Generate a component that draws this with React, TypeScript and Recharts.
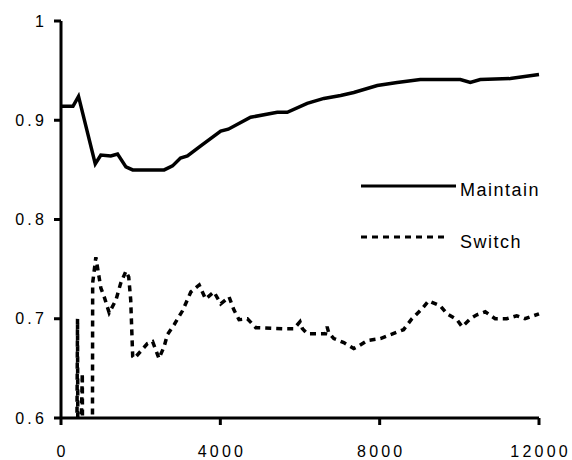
import React from 'react';
import { LineChart, Line, XAxis, YAxis, Legend, ReferenceLine } from 'recharts';

// values
const maintainX = [0, 300, 440, 860, 1000, 1250, 1420, 1630, 1800, 2590, 2800, 3000, 3175, 3500, 4010, 4200, 4760, 5430, 5680, 6180, 6600, 7020, 7350, 7940, 8440, 9020, 10025, 10275, 10525, 11280, 12000];
const maintainY = [0.914, 0.914, 0.924, 0.856, 0.865, 0.864, 0.866, 0.853, 0.85, 0.85, 0.854, 0.862, 0.864, 0.874, 0.889, 0.891, 0.903, 0.908, 0.908, 0.917, 0.922, 0.925, 0.928, 0.935, 0.938, 0.941, 0.941, 0.938, 0.941, 0.942, 0.946];

const switchX = [380, 415, 430, 535, 550, 785, 795, 875, 1000, 1085, 1210, 1380, 1500, 1630, 1700, 1750, 1800, 1840, 2170, 2300, 2460, 2590, 2670, 2840, 3050, 3260, 3470, 3630, 3840, 4010, 4220, 4340, 4470, 4680, 4890, 5560, 5850, 6000, 6060, 6180, 6640, 6680, 6720, 6850, 7100, 7350, 7450, 7690, 8020, 8270, 8600, 8810, 9060, 9230, 9520, 9690, 9940, 10070, 10275, 10440, 10650, 10900, 11190, 11440, 11650, 11860, 12000];
const switchY = [0.45, 0.7, 0.45, 0.645, 0.45, 0.45, 0.736, 0.762, 0.731, 0.722, 0.706, 0.719, 0.736, 0.748, 0.742, 0.719, 0.662, 0.66, 0.675, 0.677, 0.66, 0.672, 0.684, 0.694, 0.708, 0.727, 0.734, 0.72, 0.727, 0.715, 0.722, 0.709, 0.699, 0.7, 0.691, 0.69, 0.69, 0.697, 0.69, 0.685, 0.685, 0.692, 0.686, 0.68, 0.676, 0.67, 0.672, 0.678, 0.68, 0.684, 0.689, 0.7, 0.71, 0.718, 0.713, 0.705, 0.699, 0.692, 0.7, 0.704, 0.707, 0.7, 0.7, 0.703, 0.7, 0.703, 0.705];

const xTicks = [0, 4000, 8000, 12000];
const yTicks = [0.6, 0.7, 0.8, 0.9, 1];
const seriesNames = ['Maintain', 'Switch'];

const maintainData = maintainX.map((x, i) => ({ x, v: maintainY[i] }));
const switchData = switchX.map((x, i) => ({ x, v: switchY[i] }));

const font = '"Liberation Sans", Arial, sans-serif';
const LS = 3.2;
const txt = { fontFamily: font, fontSize: 16, letterSpacing: LS, fill: '#000' };

// tick mark + label drawn by hand so the marks come out 3px thick
function XTick(props: any) {
  const { x, y, payload } = props;
  return (
    <g>
      <line x1={x} y1={y} x2={x} y2={y + 7} stroke="#000" strokeWidth={3} />
      <text x={x + LS / 2} y={y + 38.5} textAnchor="middle" {...txt}>{payload.value}</text>
    </g>
  );
}

function YTick(props: any) {
  const { x, y, payload } = props;
  const label = payload.value === 1 ? '1' : Number(payload.value).toFixed(1);
  return (
    <g>
      <line x1={x - 7} y1={y} x2={x} y2={y} stroke="#000" strokeWidth={3} />
      <text x={x - 14} y={y} dy="0.355em" textAnchor="end" {...txt}>{label}</text>
    </g>
  );
}

function KeyBox() {
  const t = { fontFamily: font, fontSize: 18, letterSpacing: 1.5, fill: '#000' };
  return (
    <svg width={200} height={90} style={{ display: 'block' }}>
      <line x1={0} y1={16} x2={95} y2={16} stroke="#000" strokeWidth={3} />
      <text x={99} y={26} {...t}>{seriesNames[0]}</text>
      <line x1={0} y1={67} x2={87} y2={67} stroke="#000" strokeWidth={3} strokeDasharray="6 5" />
      <text x={99} y={77.5} {...t}>{seriesNames[1]}</text>
    </svg>
  );
}

export default function App() {
  return (
    <div style={{ position: 'absolute', left: 0, top: 0 }}>
      <LineChart width={572} height={460} margin={{ top: 21, right: 33, bottom: 0, left: 0 }}>
        <XAxis
          type="number"
          dataKey="x"
          domain={[0, 12000]}
          ticks={xTicks}
          height={42}
          axisLine={false}
          tickLine={false}
          tickSize={0}
          tickMargin={0}
          tick={<XTick />}
        />
        <YAxis
          type="number"
          dataKey="v"
          domain={[0.6, 1]}
          allowDataOverflow
          ticks={yTicks}
          width={61}
          axisLine={false}
          tickLine={false}
          tickSize={0}
          tickMargin={0}
          tick={<YTick />}
        />
        <Legend
          layout="horizontal"
          verticalAlign="middle"
          align="center"
          wrapperStyle={{ left: 361, top: 170, width: 200 }}
          content={() => <KeyBox />}
        />
        <Line data={maintainData} dataKey="v" name="Maintain" type="linear" stroke="#000" strokeWidth={3.5} dot={false} isAnimationActive={false} />
        <Line data={switchData} dataKey="v" name="Switch" type="linear" stroke="#000" strokeWidth={3.5} strokeDasharray="6 5" dot={false} isAnimationActive={false} />
        <ReferenceLine x={0} stroke="#000" strokeWidth={3} />
        <ReferenceLine y={0.6} stroke="#000" strokeWidth={3} />
      </LineChart>
    </div>
  );
}
